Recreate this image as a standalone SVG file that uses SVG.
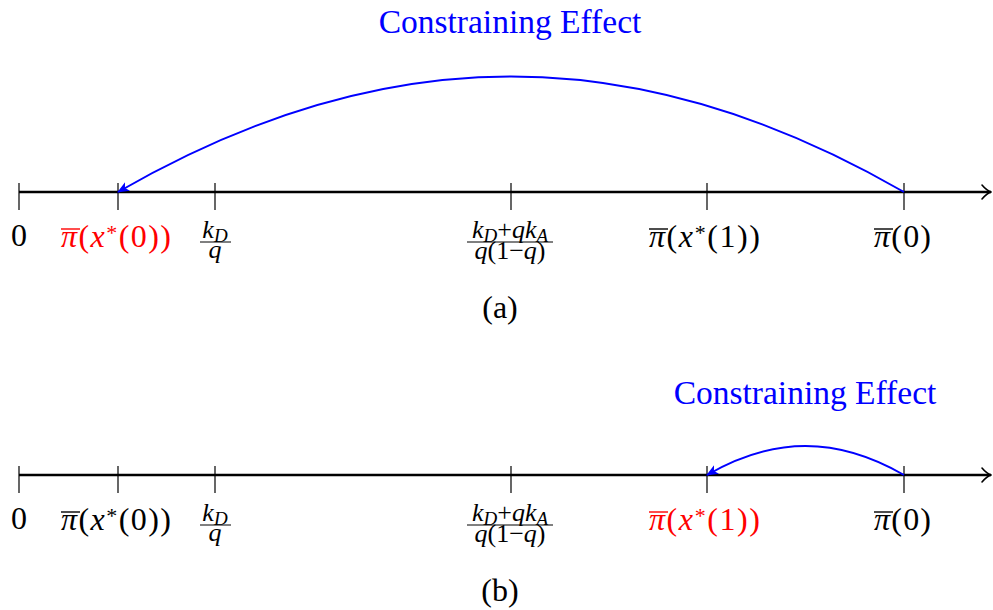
<svg xmlns="http://www.w3.org/2000/svg" width="993" height="610" viewBox="0 0 993 610" font-family="Liberation Serif">
<defs>
<marker id="bh" viewBox="0 0 12 10" refX="11" refY="5" markerWidth="12" markerHeight="10" markerUnits="userSpaceOnUse" orient="auto">
<path d="M0,0 L12,5 L0,10 L3,5 Z" fill="#0000ff"/>
</marker>
</defs>

<g id="axis-a" stroke="#000">
<line x1="19" y1="192" x2="991" y2="192" stroke-width="2.6"/>
<path d="M982,185 Q987,191 991.5,192 Q987,193 982,199" fill="none" stroke-width="1.6" stroke-linecap="round"/>
<g stroke-width="1.2">
<line x1="19" y1="183" x2="19" y2="210"/>
<line x1="118" y1="183" x2="118" y2="210"/>
<line x1="215" y1="183" x2="215" y2="210"/>
<line x1="511" y1="183" x2="511" y2="210"/>
<line x1="707" y1="183" x2="707" y2="210"/>
<line x1="904" y1="183" x2="904" y2="210"/>
</g>
</g>

<g id="labels-a">
<text x="19" y="246" text-anchor="middle" font-family="Liberation Serif" font-size="32">0</text>
<g id="pi-x0-a">
<text x="61" y="247" fill="#ff0000" font-family="Liberation Serif" font-size="32" textLength="110" lengthAdjust="spacing"><tspan font-style="italic">π</tspan>(<tspan font-style="italic">x</tspan><tspan font-size="22" dy="-7">*</tspan><tspan dy="7">(0))</tspan></text>
<line x1="61" y1="229" x2="80" y2="229" stroke="#ff0000" stroke-width="1.4"/>
</g>
<g id="frac-kd-a">
<text x="215" y="238" text-anchor="middle" font-family="Liberation Serif" font-size="26"><tspan font-style="italic">k</tspan><tspan font-style="italic" font-size="19" dy="4">D</tspan></text>
<line x1="200" y1="242" x2="231" y2="242" stroke="#000" stroke-width="1"/>
<text x="215" y="258" text-anchor="middle" font-style="italic" font-family="Liberation Serif" font-size="26">q</text>
</g>
<g id="frac-big-a">
<text x="510" y="238" text-anchor="middle" font-family="Liberation Serif" font-size="26"><tspan font-style="italic">k</tspan><tspan font-style="italic" font-size="19" dy="4">D</tspan><tspan dy="-4">+</tspan><tspan font-style="italic">qk</tspan><tspan font-style="italic" font-size="19" dy="4">A</tspan></text>
<line x1="467" y1="242" x2="553" y2="242" stroke="#000" stroke-width="1"/>
<text x="510" y="259" text-anchor="middle" font-family="Liberation Serif" font-size="26"><tspan font-style="italic">q</tspan>(1−<tspan font-style="italic">q</tspan>)</text>
</g>
<g id="pi-x1-a">
<text x="649" y="247" font-family="Liberation Serif" font-size="32" textLength="111" lengthAdjust="spacing"><tspan font-style="italic">π</tspan>(<tspan font-style="italic">x</tspan><tspan font-size="22" dy="-7">*</tspan><tspan dy="7">(1))</tspan></text>
<line x1="649" y1="229" x2="668" y2="229" stroke="#000" stroke-width="1.4"/>
</g>
<g id="pi-0-a">
<text x="874" y="247" font-family="Liberation Serif" font-size="32" textLength="57" lengthAdjust="spacing"><tspan font-style="italic">π</tspan>(0)</text>
<line x1="874" y1="229" x2="893" y2="229" stroke="#000" stroke-width="1.4"/>
</g>
<text x="500" y="318" text-anchor="middle" font-family="Liberation Serif" font-size="32">(a)</text>
</g>

<g id="effect-a">
<text x="510" y="33" text-anchor="middle" fill="#0000ff" font-family="Liberation Serif" font-size="33.5">Constraining Effect</text>
</g>

<g id="axis-b" stroke="#000">
<line x1="19" y1="475" x2="991" y2="475" stroke-width="2.6"/>
<path d="M982,468 Q987,474 991.5,475 Q987,476 982,482" fill="none" stroke-width="1.6" stroke-linecap="round"/>
<g stroke-width="1.2">
<line x1="19" y1="466" x2="19" y2="493"/>
<line x1="118" y1="466" x2="118" y2="493"/>
<line x1="215" y1="466" x2="215" y2="493"/>
<line x1="511" y1="466" x2="511" y2="493"/>
<line x1="707" y1="466" x2="707" y2="493"/>
<line x1="904" y1="466" x2="904" y2="493"/>
</g>
</g>

<g id="labels-b">
<text x="19" y="529" text-anchor="middle" font-family="Liberation Serif" font-size="32">0</text>
<g id="pi-x0-b">
<text x="61" y="530" font-family="Liberation Serif" font-size="32" textLength="110" lengthAdjust="spacing"><tspan font-style="italic">π</tspan>(<tspan font-style="italic">x</tspan><tspan font-size="22" dy="-7">*</tspan><tspan dy="7">(0))</tspan></text>
<line x1="61" y1="512" x2="80" y2="512" stroke="#000" stroke-width="1.4"/>
</g>
<g id="frac-kd-b">
<text x="215" y="521" text-anchor="middle" font-family="Liberation Serif" font-size="26"><tspan font-style="italic">k</tspan><tspan font-style="italic" font-size="19" dy="4">D</tspan></text>
<line x1="200" y1="525" x2="231" y2="525" stroke="#000" stroke-width="1"/>
<text x="215" y="541" text-anchor="middle" font-style="italic" font-family="Liberation Serif" font-size="26">q</text>
</g>
<g id="frac-big-b">
<text x="510" y="521" text-anchor="middle" font-family="Liberation Serif" font-size="26"><tspan font-style="italic">k</tspan><tspan font-style="italic" font-size="19" dy="4">D</tspan><tspan dy="-4">+</tspan><tspan font-style="italic">qk</tspan><tspan font-style="italic" font-size="19" dy="4">A</tspan></text>
<line x1="467" y1="525" x2="553" y2="525" stroke="#000" stroke-width="1"/>
<text x="510" y="542" text-anchor="middle" font-family="Liberation Serif" font-size="26"><tspan font-style="italic">q</tspan>(1−<tspan font-style="italic">q</tspan>)</text>
</g>
<g id="pi-x1-b">
<text x="649" y="530" fill="#ff0000" font-family="Liberation Serif" font-size="32" textLength="111" lengthAdjust="spacing"><tspan font-style="italic">π</tspan>(<tspan font-style="italic">x</tspan><tspan font-size="22" dy="-7">*</tspan><tspan dy="7">(1))</tspan></text>
<line x1="649" y1="512" x2="668" y2="512" stroke="#ff0000" stroke-width="1.4"/>
</g>
<g id="pi-0-b">
<text x="874" y="530" font-family="Liberation Serif" font-size="32" textLength="57" lengthAdjust="spacing"><tspan font-style="italic">π</tspan>(0)</text>
<line x1="874" y1="512" x2="893" y2="512" stroke="#000" stroke-width="1.4"/>
</g>
<text x="500" y="601" text-anchor="middle" font-family="Liberation Serif" font-size="32">(b)</text>
</g>

<g id="effect-b">
<text x="805" y="404" text-anchor="middle" fill="#0000ff" font-family="Liberation Serif" font-size="33.5">Constraining Effect</text>
</g>

<g id="connectors" fill="none" stroke="#0000ff" stroke-width="2">
<path d="M904,192 C637.5,38 384.5,38 118,192" marker-end="url(#bh)"/>
<path d="M904,475 C837,436.4 774,436.4 707,475" marker-end="url(#bh)"/>
</g>
</svg>
